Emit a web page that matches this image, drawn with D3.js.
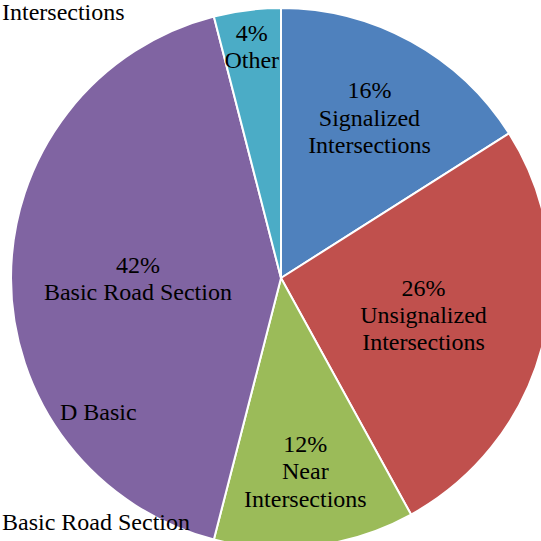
<!DOCTYPE html>
<html><head><meta charset="utf-8">
<script src="https://cdn.jsdelivr.net/npm/d3@7"></script>
<style>html,body{margin:0;padding:0;background:#fff;overflow:hidden}</style>
</head><body>
<svg id="chart" width="541" height="541"></svg>
<script>
const categories = ["Signalized Intersections", "Unsignalized Intersections", "Near Intersections", "Basic Road Section", "Other"];
const labelLines = [["16%","Signalized","Intersections"],["26%","Unsignalized","Intersections"],["12%","Near","Intersections"],["42%","Basic Road Section"],["4%","Other"]];
const values = [16, 26, 12, 42, 4];
const colors = ["#4F81BD", "#C0504D", "#9BBB59", "#8064A2", "#4BACC6"];

// layout
const cx = 281, cy = 278, R = 270;
const labelRadiusFactor = [0.68, 0.545, 0.72, 0.53, 0.865];
const lineH = 27.5;
const fontSize = 24;
const baselineShift = fontSize * 0.35;

const svg = d3.select("#chart");
const g = svg.append("g").attr("transform", `translate(${cx},${cy})`);
const pie = d3.pie().sort(null).value(d => d)(values);
const arc = d3.arc().innerRadius(0).outerRadius(R);

g.selectAll("path").data(pie).join("path")
  .attr("d", arc)
  .attr("fill", (d,i) => colors[i])
  .attr("stroke", "#fff")
  .attr("stroke-width", 2)
  .attr("stroke-linejoin", "round");

// diagnostics
svg.append("text").attr("x",60).attr("y",420).style("font-family",'"Liberation Serif"').style("font-size","24px").text("D Basic");
svg.append("text").attr("x",2).attr("y",530).style("font-family",'"Liberation Serif"').style("font-size","24px").text("Basic Road Section");
svg.append("text").attr("x",2).attr("y",20).style("font-family",'"Liberation Serif"').style("font-size","24px").text("Intersections");

pie.forEach((d, i) => {
  const mid = (d.startAngle + d.endAngle) / 2;
  const r = R * labelRadiusFactor[i];
  const x = Math.sin(mid) * r, y = -Math.cos(mid) * r;
  const lines = labelLines[i];
  lines.forEach((s, k) => {
    g.append("text")
      .attr("x", x)
      .attr("y", y + (k - (lines.length - 1) / 2) * lineH + baselineShift)
      .attr("text-anchor", "middle")
      .style("font-family", '"Liberation Serif"')
      .style("font-size", fontSize + "px")
      .text(s);
  });
});
</script>
</body></html>
